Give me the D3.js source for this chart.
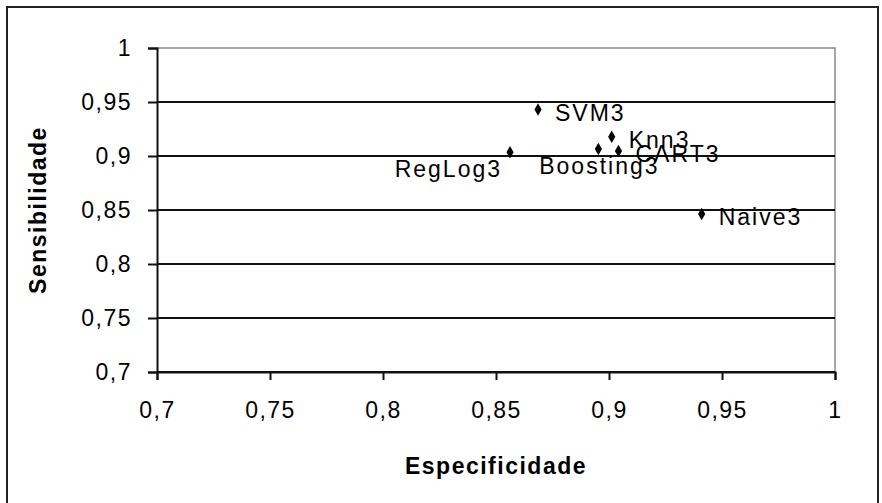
<!DOCTYPE html>
<html>
<head>
<meta charset="utf-8">
<script src="https://cdn.jsdelivr.net/npm/d3@7"></script>
<style>
  html, body { margin: 0; padding: 0; background: #fff; }
  svg { display: block; }
  text { font-family: "Liberation Sans", Arial, sans-serif; fill: #000; }
</style>
</head>
<body>
<div id="chart"></div>
<script>
// ---- data ----
const labels = ["SVM3", "Knn3", "RegLog3", "Boosting3", "CART3", "Naive3"];
const especificidade = [0.8686, 0.9012, 0.8562, 0.8953, 0.9042, 0.9410];
const sensibilidade = [0.9430, 0.9179, 0.9034, 0.9065, 0.9046, 0.8463];
const labelPlacement = ["right", "right", "belowLeft", "below", "right", "right"];
const xTicks = [0.7, 0.75, 0.8, 0.85, 0.9, 0.95, 1];
const yTicks = [0.7, 0.75, 0.8, 0.85, 0.9, 0.95, 1];
const xTitle = "Especificidade";
const yTitle = "Sensibilidade";

const W = 882, H = 503;
const plot = { left: 157, right: 835, top: 48, bottom: 372 };

const svg = d3.select("#chart").append("svg").attr("width", W).attr("height", H);

// outer frame
svg.append("rect").attr("x", 7).attr("y", 7).attr("width", 871).attr("height", 505)
  .attr("fill", "#fff").attr("stroke", "#222").attr("stroke-width", 2);

const x = d3.scaleLinear().domain([0.7, 1]).range([plot.left, plot.right]);
const y = d3.scaleLinear().domain([0.7, 1]).range([plot.bottom, plot.top]);

const fmt = d => String(d).replace(".", ",");

// plot area border (gray top/right)
svg.append("path")
  .attr("d", `M${plot.left},${plot.top}H${plot.right}V${plot.bottom}`)
  .attr("fill", "none").attr("stroke", "#8a8a8a").attr("stroke-width", 1.5);

// gridlines
svg.append("g").selectAll("line").data(yTicks.filter(t => t < 1)).join("line")
  .attr("x1", plot.left).attr("x2", plot.right)
  .attr("y1", d => y(d)).attr("y2", d => y(d))
  .attr("stroke", "#111").attr("stroke-width", 2);

// y axis
const yAxis = svg.append("g").attr("transform", `translate(${plot.left},0)`)
  .call(d3.axisLeft(y).tickValues(yTicks).tickFormat(fmt).tickSize(9).tickPadding(16));
yAxis.select(".domain").attr("stroke", "#111").attr("stroke-width", 2);
yAxis.selectAll(".tick line").attr("stroke", "#111").attr("stroke-width", 2);
yAxis.selectAll(".tick text").attr("font-size", 23).attr("letter-spacing", 1.5)
  .attr("font-family", "Liberation Sans, Arial, sans-serif").attr("fill", "#000");

// x axis
const xAxis = svg.append("g").attr("transform", `translate(0,${plot.bottom})`)
  .call(d3.axisBottom(x).tickValues(xTicks).tickFormat(fmt).tickSize(8).tickPadding(22));
xAxis.select(".domain").attr("stroke", "#111").attr("stroke-width", 2);
xAxis.selectAll(".tick line").attr("stroke", "#111").attr("stroke-width", 2);
xAxis.selectAll(".tick text").attr("font-size", 23).attr("letter-spacing", 1.5)
  .attr("font-family", "Liberation Sans, Arial, sans-serif").attr("fill", "#000");

// axis titles
svg.append("text").attr("x", (plot.left + plot.right) / 2).attr("y", 474)
  .attr("text-anchor", "middle").attr("font-size", 23).attr("font-weight", "bold")
  .attr("letter-spacing", 1.5).text(xTitle);
svg.append("text").attr("transform", `translate(46,${(plot.top + plot.bottom) / 2}) rotate(-90)`)
  .attr("text-anchor", "middle").attr("font-size", 23).attr("font-weight", "bold")
  .attr("letter-spacing", 1.5).text(yTitle);

// points
const pts = labels.map((l, i) => ({ l, x: especificidade[i], y: sensibilidade[i], p: labelPlacement[i] }));
const g = svg.append("g");
g.selectAll("path").data(pts).join("path")
  .attr("transform", d => `translate(${x(d.x)},${y(d.y)})`)
  .attr("d", d3.symbol(d3.symbolDiamond, 45))
  .attr("fill", "#000");

g.selectAll("text").data(pts).join("text")
  .attr("font-size", 23).attr("letter-spacing", 2)
  .attr("x", d => d.p === "right" ? x(d.x) + 17 : d.p === "below" ? x(d.x) + 1 : x(d.x) - 8)
  .attr("y", d => d.p === "right" ? y(d.y) + 11 : y(d.y) + 25)
  .attr("text-anchor", d => d.p === "right" ? "start" : d.p === "below" ? "middle" : "end")
  .text(d => d.l);
</script>
</body>
</html>
